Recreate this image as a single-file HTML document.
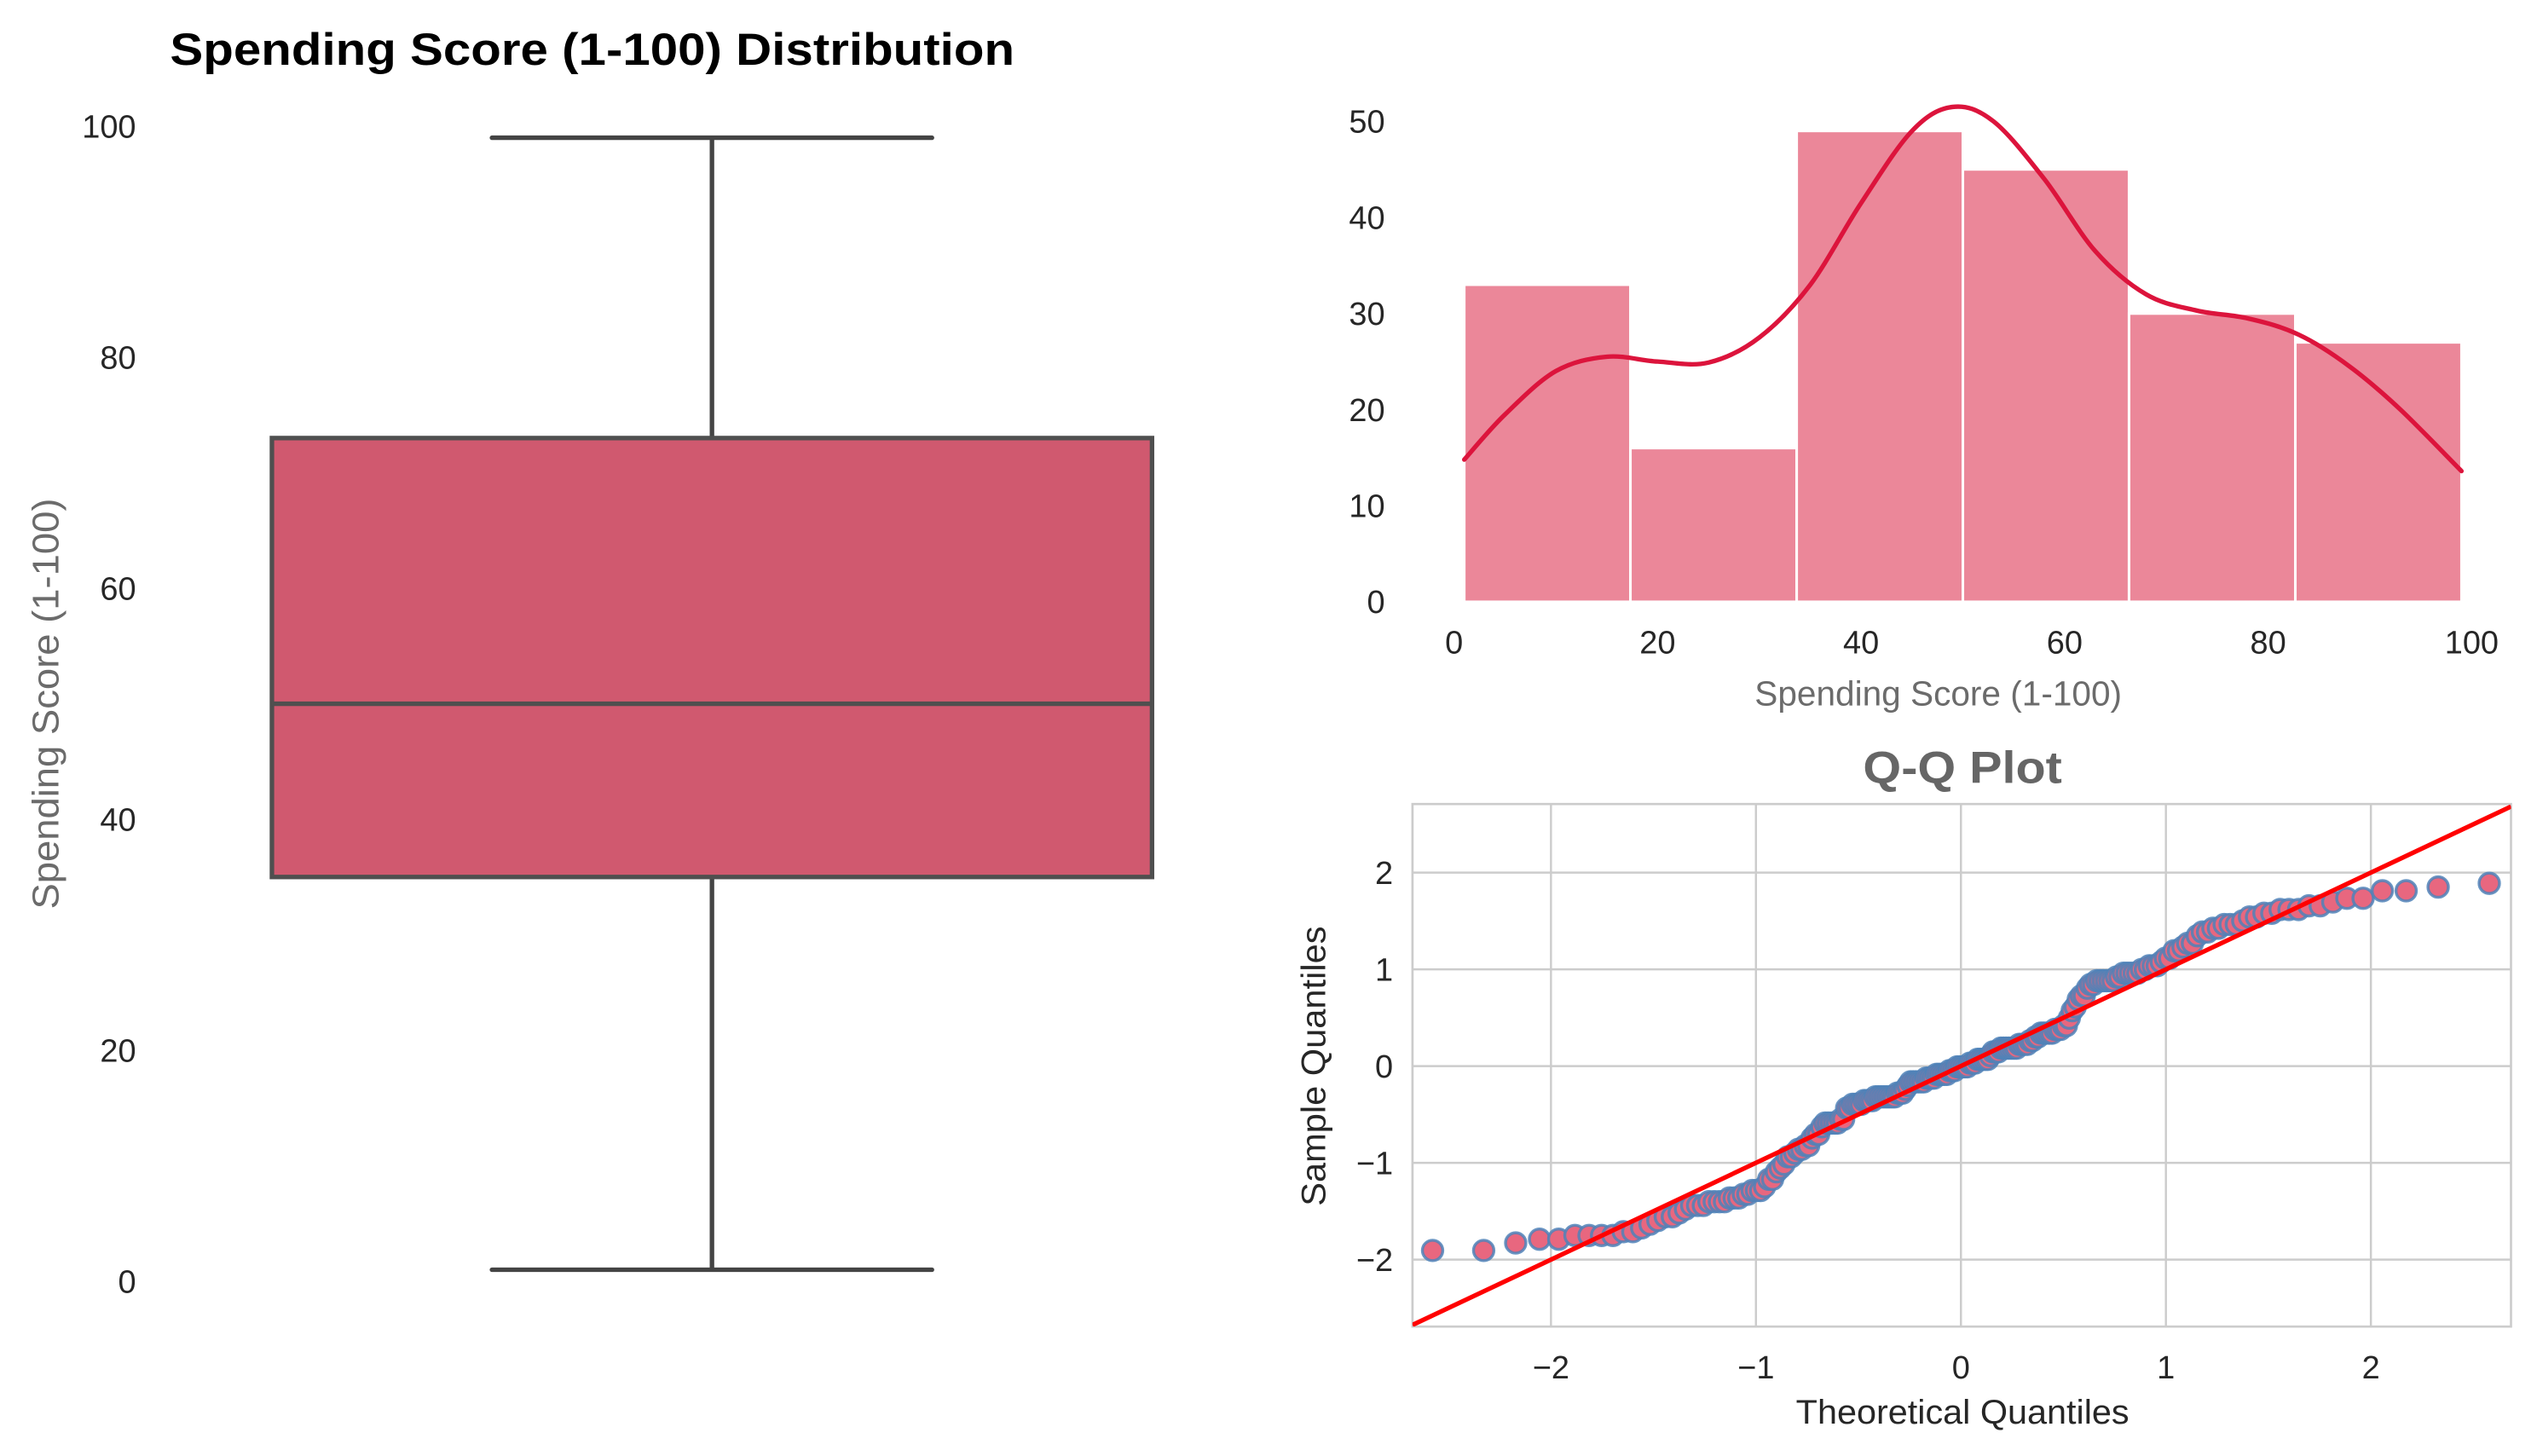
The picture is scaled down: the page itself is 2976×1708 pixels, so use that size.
<!DOCTYPE html>
<html><head><meta charset="utf-8">
<style>
html,body{margin:0;padding:0;background:#fff;}
svg{display:block;font-family:"Liberation Sans",Arial,sans-serif;}
</style></head>
<body>
<svg id="fig" width="2976" height="1708" viewBox="0 0 1568 900" xmlns="http://www.w3.org/2000/svg">
<rect width="1568" height="900" fill="#fff"/>
<g id="box"></g>
<g id="hist"></g>
<g id="qq"></g>
</svg>
<script>
// ---- data ----
const boxStats = [1, 35, 50, 73, 99]; // min, q1, median, q3, max
const boxTicks = [0, 20, 40, 60, 80, 100];
const histEdges = [1, 17.33, 33.67, 50, 66.33, 82.67, 99];
const histCounts = [33, 16, 49, 45, 30, 27];
const histXTicks = [0, 20, 40, 60, 80, 100];
const histYTicks = [0, 10, 20, 30, 40, 50];
const kdeX = [1, 5, 10, 15, 20, 25, 30, 35, 40, 45, 49, 53, 58, 63, 68, 73, 78, 83, 88, 93, 99];
const kdeY = [14.8, 19.5, 24.0, 25.5, 25.0, 24.9, 27.5, 33.0, 41.5, 49.0, 51.5, 50.0, 44.0, 36.5, 32.0, 30.3, 29.5, 27.8, 24.5, 20.0, 13.6];
const scores = [39,81,6,77,40,76,6,94,3,72,14,99,15,77,13,79,35,66,29,98,35,73,5,73,14,82,32,61,31,87,4,73,4,92,14,81,17,73,26,75,35,92,36,61,28,65,55,47,42,42,52,60,54,60,45,41,50,46,51,46,56,55,52,59,51,59,50,48,59,47,55,42,49,56,47,54,53,48,52,42,51,55,41,44,57,46,58,55,60,46,55,41,49,40,42,52,47,50,42,49,41,48,59,55,56,42,50,46,43,48,52,54,42,46,48,50,43,59,43,57,56,40,58,91,29,77,35,95,11,75,9,75,34,71,5,88,7,73,10,72,5,93,40,87,12,97,36,74,22,90,17,88,20,76,16,89,1,78,1,73,35,83,5,93,26,75,20,95,27,63,13,75,10,92,13,86,15,69,14,90,32,86,15,88,39,97,24,68,17,85,23,69,8,91,16,79,28,74,18,83];
const qqXTicks = [-2, -1, 0, 1, 2];
const qqYTicks = [-2, -1, 0, 1, 2];

const NS = "http://www.w3.org/2000/svg";
function mk(parent, tag, attrs, text){
  const e = document.createElementNS(NS, tag);
  for (const k in attrs) e.setAttribute(k, attrs[k]);
  if (text !== undefined) e.textContent = text;
  parent.appendChild(e);
  return e;
}
const TICK = 20;

// ---- box plot ----
const gB = document.getElementById('box');
const bY = v => 792 - v * 7.14;
let t = mk(gB, 'text', {x: 105, y: 40, 'font-size': 28, 'font-weight': 'bold', fill: '#000', textLength: 522, lengthAdjust: 'spacingAndGlyphs'}, 'Spending Score (1-100) Distribution');


boxTicks.forEach(v => {
  const e = mk(gB, 'text', {x: 84, y: bY(v) + 7, 'font-size': TICK, 'text-anchor': 'end', fill: '#262626'}, String(v));
  
  
});
t = mk(gB, 'text', {x: 0, y: 0, 'font-size': 23, 'text-anchor': 'middle', fill: '#6b6b6b', transform: 'translate(36,435) rotate(-90)', textLength: 254, lengthAdjust: 'spacingAndGlyphs'}, 'Spending Score (1-100)');


const [mn, q1, md, q3, mx] = boxStats;
let e;
e = mk(gB, 'line', {x1: 440, x2: 440, y1: bY(q3), y2: bY(mx), stroke: '#444', 'stroke-width': 2.8});
 
e = mk(gB, 'line', {x1: 440, x2: 440, y1: bY(q1), y2: bY(mn), stroke: '#444', 'stroke-width': 2.8});
 
e = mk(gB, 'line', {x1: 304, x2: 576, y1: bY(mx), y2: bY(mx), stroke: '#444', 'stroke-width': 2.8, 'stroke-linecap': 'round'});
 
e = mk(gB, 'line', {x1: 304, x2: 576, y1: bY(mn), y2: bY(mn), stroke: '#444', 'stroke-width': 2.8, 'stroke-linecap': 'round'});
 
e = mk(gB, 'rect', {x: 168, y: bY(q3), width: 544, height: bY(q1) - bY(q3), fill: '#d0596f', stroke: '#4f4f4f', 'stroke-width': 2.8});
 
e = mk(gB, 'line', {x1: 168, x2: 712, y1: bY(md), y2: bY(md), stroke: '#4f4f4f', 'stroke-width': 2.8});
 

// ---- histogram ----
const gH = document.getElementById('hist');
const hX = v => 898.7 + v * 6.29;
const hY = v => 372 - v * 5.94;
histCounts.forEach((c, i) => {
  const x0 = hX(histEdges[i]), x1 = hX(histEdges[i + 1]);
  const r = mk(gH, 'rect', {x: x0, y: hY(c), width: x1 - x0, height: hY(0) - hY(c), fill: '#eb8799', stroke: '#fff', 'stroke-width': 1.6});
  
  
});
// smooth path through KDE points (Catmull-Rom -> Bezier)
const P = kdeX.map((x, i) => [hX(x), hY(kdeY[i])]);
let d = 'M' + P[0][0].toFixed(1) + ',' + P[0][1].toFixed(1);
for (let i = 0; i < P.length - 1; i++) {
  const p0 = P[Math.max(0, i - 1)], p1 = P[i], p2 = P[i + 1], p3 = P[Math.min(P.length - 1, i + 2)];
  const c1 = [p1[0] + (p2[0] - p0[0]) / 6, p1[1] + (p2[1] - p0[1]) / 6];
  const c2 = [p2[0] - (p3[0] - p1[0]) / 6, p2[1] - (p3[1] - p1[1]) / 6];
  d += ' C' + c1.map(v => v.toFixed(1)).join(',') + ' ' + c2.map(v => v.toFixed(1)).join(',') + ' ' + p2.map(v => v.toFixed(1)).join(',');
}
e = mk(gH, 'path', {d: d, fill: 'none', stroke: '#dc143c', 'stroke-width': 2.8, 'stroke-linejoin': 'round', 'stroke-linecap': 'round'});
 
histXTicks.forEach(v => {
  const l = mk(gH, 'text', {x: hX(v), y: 404, 'font-size': TICK, 'text-anchor': 'middle', fill: '#262626'}, String(v));
  
  
});
histYTicks.forEach(v => {
  const l = mk(gH, 'text', {x: 856, y: hY(v) + 7, 'font-size': TICK, 'text-anchor': 'end', fill: '#262626'}, String(v));
  
  
});
e = mk(gH, 'text', {x: 1198, y: 436, 'font-size': 21.5, 'text-anchor': 'middle', fill: '#6b6b6b', textLength: 227, lengthAdjust: 'spacingAndGlyphs'}, 'Spending Score (1-100)');
 

// ---- Q-Q plot ----
const gQ = document.getElementById('qq');
const qX = v => 1212 + v * 126.7;
const qY = v => 659 - v * 59.8;
const L = 873, R = 1552, T = 497, B = 820;
e = mk(gQ, 'rect', {x: L, y: T, width: R - L, height: B - T, fill: '#fff', stroke: '#cccccc', 'stroke-width': 1.4});
 
qqXTicks.forEach(v => {
  const g = mk(gQ, 'line', {x1: qX(v), x2: qX(v), y1: T, y2: B, stroke: '#cccccc', 'stroke-width': 1.3});
   
  const l = mk(gQ, 'text', {x: qX(v), y: 852, 'font-size': TICK, 'text-anchor': 'middle', fill: '#262626'}, (v < 0 ? '\u2212' + (-v) : String(v)));
   
});
qqYTicks.forEach(v => {
  const g = mk(gQ, 'line', {x1: L, x2: R, y1: qY(v), y2: qY(v), stroke: '#cccccc', 'stroke-width': 1.3});
   
  const l = mk(gQ, 'text', {x: 861, y: qY(v) + 7, 'font-size': TICK, 'text-anchor': 'end', fill: '#262626'}, (v < 0 ? '\u2212' + (-v) : String(v)));
   
});
// inverse normal (Acklam)
function ppf(p){
  const a=[-39.69683028665376,220.9460984245205,-275.9285104469687,138.3577518672690,-30.66479806614716,2.506628277459239];
  const b=[-54.47609879822406,161.5858368580409,-155.6989798598866,66.80131188771972,-13.28068155288572];
  const c=[-0.007784894002430293,-0.3223964580411365,-2.400758277161838,-2.549732539343734,4.374664141464968,2.938163982698783];
  const dd=[0.007784695709041462,0.3224671290700398,2.445134137142996,3.754408661907416];
  const pl=0.02425;
  if(p<pl){const q=Math.sqrt(-2*Math.log(p));return (((((c[0]*q+c[1])*q+c[2])*q+c[3])*q+c[4])*q+c[5])/((((dd[0]*q+dd[1])*q+dd[2])*q+dd[3])*q+1);}
  if(p>1-pl){const q=Math.sqrt(-2*Math.log(1-p));return -(((((c[0]*q+c[1])*q+c[2])*q+c[3])*q+c[4])*q+c[5])/((((dd[0]*q+dd[1])*q+dd[2])*q+dd[3])*q+1);}
  const q=p-0.5,r=q*q;return (((((a[0]*r+a[1])*r+a[2])*r+a[3])*r+a[4])*r+a[5])*q/(((((b[0]*r+b[1])*r+b[2])*r+b[3])*r+b[4])*r+1);
}
const n = scores.length;
const mean = scores.reduce((s, v) => s + v, 0) / n;
const sd = Math.sqrt(scores.reduce((s, v) => s + (v - mean) * (v - mean), 0) / (n - 1));
const sorted = scores.slice().sort((a, b) => a - b);
const clip = mk(gQ, 'clipPath', {id: 'qqclip'});
mk(clip, 'rect', {x: L, y: T, width: R - L, height: B - T});
const ptsG = mk(gQ, 'g', {});
 
sorted.forEach((s, i) => {
  const tq = ppf((i + 1) / (n + 1));
  const sq = (s - mean) / sd;
  const c = mk(ptsG, 'circle', {cx: qX(tq), cy: qY(sq), r: 6.3, fill: '#e8677f', stroke: '#4f82b8', 'stroke-opacity': 0.85, 'stroke-width': 1.8});
  
  
});
const xa = (L - 1212) / 126.7, xb = (R - 1212) / 126.7;
e = mk(gQ, 'line', {x1: qX(xa), y1: qY(xa), x2: qX(xb), y2: qY(xb), stroke: '#ff0000', 'stroke-width': 2.8, 'clip-path': 'url(#qqclip)'});
 
e = mk(gQ, 'text', {x: 1213, y: 484, 'font-size': 28, 'font-weight': 'bold', 'text-anchor': 'middle', fill: '#666', textLength: 123, lengthAdjust: 'spacingAndGlyphs'}, 'Q-Q Plot');
 
e = mk(gQ, 'text', {x: 1213, y: 880, 'font-size': 21, 'text-anchor': 'middle', fill: '#262626', textLength: 206, lengthAdjust: 'spacingAndGlyphs'}, 'Theoretical Quantiles');
 
e = mk(gQ, 'text', {x: 0, y: 0, 'font-size': 21, 'text-anchor': 'middle', fill: '#262626', transform: 'translate(819,659) rotate(-90)', textLength: 173, lengthAdjust: 'spacingAndGlyphs'}, 'Sample Quantiles');
 
</script>
</body></html>
